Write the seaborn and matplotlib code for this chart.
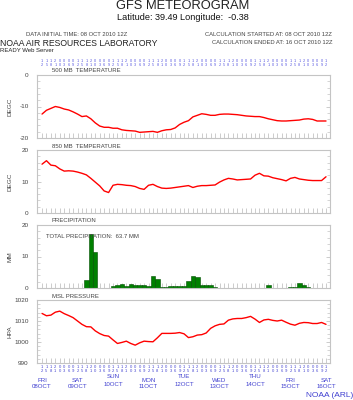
import numpy as np
import pandas as pd
import matplotlib
matplotlib.use("Agg")
import matplotlib.pyplot as plt
import seaborn as sns

# ---------------- data (3-hourly, 08 OCT 2010 12Z -> 16 OCT 2010 12Z) ----------------
hours = list(range(0, 193, 3))  # forecast hour

t500 = [-12.4, -11.2, -10.6, -10.0, -10.3, -10.8, -11.1, -11.7, -12.4, -13.2,
        -13.0, -13.9, -15.2, -16.2, -16.6, -16.6, -16.9, -16.9, -17.4, -17.6,
        -17.7, -17.8, -18.2, -18.1, -18.0, -17.9, -18.2, -17.7, -17.4, -17.3,
        -16.8, -15.7, -15.0, -14.5, -13.3, -12.8, -12.3, -12.5, -12.8, -12.8,
        -12.5, -12.4, -12.4, -12.5, -12.6, -12.8, -13.0, -13.1, -13.2, -13.2,
        -13.5, -13.9, -14.2, -14.5, -14.6, -14.6, -14.5, -14.4, -14.3, -14.0,
        -13.9, -14.1, -14.6, -14.6, -14.6]

t850 = [15.5, 16.6, 15.2, 15.0, 14.0, 13.3, 13.4, 13.3, 13.0, 12.6,
        12.1, 11.0, 9.8, 8.6, 7.0, 6.5, 8.8, 9.1, 9.0, 8.8,
        8.7, 8.4, 7.8, 7.5, 8.8, 9.1, 8.4, 7.9, 7.8, 7.9,
        8.1, 8.3, 8.5, 8.7, 8.1, 8.5, 8.7, 8.7, 8.8, 8.9,
        9.8, 10.5, 11.0, 10.8, 10.5, 10.6, 10.7, 10.8, 12.0, 12.6,
        11.8, 11.7, 11.2, 10.9, 10.6, 10.2, 11.0, 11.3, 10.8, 10.6,
        10.4, 10.3, 10.3, 10.3, 11.5]

precip = [0, 0, 0, 0, 0, 0, 0, 0, 0, 0,
          2.5, 17.2, 11.4, 0, 0, 0, 0.5, 1.0, 1.4, 0.6,
          1.2, 0.8, 1.0, 1.0, 0.6, 3.7, 2.8, 0.3, 0.2, 0.7,
          0.7, 0.7, 0.7, 2.2, 3.9, 3.5, 0.8, 0.8, 0.8, 0.2,
          0.1, 0, 0, 0, 0, 0, 0, 0, 0, 0,
          0, 1.0, 0, 0, 0, 0, 0.4, 0.4, 1.5, 0.8,
          0.3, 0, 0, 0, 0]

mslp = [1013.6, 1012.5, 1012.8, 1014.2, 1014.7, 1013.5, 1012.6, 1011.6, 1010.0, 1008.4,
        1007.3, 1007.2, 1005.3, 1004.0, 1003.1, 1002.8, 1001.0, 999.3, 999.8, 1000.4,
        999.3, 998.5, 999.6, 1000.4, 1000.2, 1000.1, 1002.0, 1004.1, 1004.1, 1004.1,
        1004.2, 1004.5, 1003.9, 1002.1, 1002.5, 1003.3, 1003.5, 1004.3, 1006.5, 1007.7,
        1008.4, 1008.6, 1010.4, 1011.0, 1011.2, 1011.2, 1011.6, 1012.2, 1010.9, 1009.3,
        1010.5, 1010.8, 1010.3, 1010.0, 1010.4, 1009.4, 1008.5, 1008.0, 1008.9, 1009.3,
        1009.2, 1008.8, 1008.8, 1009.3, 1008.4]

hour_labels = ["12", "15", "18", "21", "00", "03", "06", "09"]
day_names = ["FRI", "SAT", "SUN", "MON", "TUE", "WED", "THU", "FRI", "SAT"]
day_dates = ["08OCT", "09OCT", "10OCT", "11OCT", "12OCT", "13OCT", "14OCT", "15OCT", "16OCT"]
day_hours = [0, 24, 48, 72, 96, 120, 144, 168, 192]

panel_titles = ["500 MB  TEMPERATURE", "850 MB  TEMPERATURE", "PRECIPITATION", "MSL PRESSURE"]
panel_units = ["DEGC", "DEGC", "MM", "HPA"]

# ---------------- style ----------------
sns.set_style("white")
plt.rcParams["font.family"] = ["Liberation Sans", "DejaVu Sans"]

W, H = 353, 400
fig = plt.figure(figsize=(W / 100, H / 100), dpi=100)

def fx(x):
    return x / W

def fy(y):
    return 1 - y / H

FRAME = "#c4c4c4"
TXT = "#444444"
BLUE = "#4040d0"

left_px, right_px = 37, 330
panel_tops = [75, 150, 225, 300]
panel_h = 63
XLIM = (-3.4, 194.7)

axes = []
for top in panel_tops:
    ax = fig.add_axes([fx(left_px), fy(top + panel_h), fx(right_px - left_px), panel_h / H])
    axes.append(ax)

df = pd.DataFrame({"hour": hours, "t500": t500, "t850": t850, "precip": precip, "mslp": mslp})

sns.lineplot(data=df, x="hour", y="t500", ax=axes[0], color="#ff0000", linewidth=1.0)
sns.lineplot(data=df, x="hour", y="t850", ax=axes[1], color="#ff0000", linewidth=1.0)
sns.histplot(data=df, x="hour", weights="precip", binwidth=3, binrange=(-1.5, 193.5),
             ax=axes[2], color="#008000", edgecolor="#004d00", alpha=1.0, linewidth=0.4)
sns.lineplot(data=df, x="hour", y="mslp", ax=axes[3], color="#ff0000", linewidth=1.0)

ylims = [(-20, 0), (0, 20), (0, 20), (990, 1020)]
ymajor = [[-20, -10, 0], [0, 10, 20], [0, 10, 20], [990, 1000, 1010, 1020]]

for ax, yl, ym in zip(axes, ylims, ymajor):
    ax.set_xlim(*XLIM)
    ax.set_ylim(*yl)
    ax.set_xticks(hours)
    ax.set_yticks(ym)
    ax.set_yticks(np.arange(yl[0], yl[1] + 0.1, 2), minor=True)
    ax.set_yticklabels([str(v) for v in ym])
    ax.set_xlabel("")
    ax.set_ylabel("")
    ax.tick_params(axis="x", which="both", direction="in", length=3.5, width=0.6,
                   color=FRAME, bottom=True, top=False, labelbottom=False)
    ax.tick_params(axis="y", which="major", direction="in", length=3, width=0.6,
                   color=FRAME, left=True, right=True, labelsize=4.6, labelcolor=TXT, pad=6)
    ax.tick_params(axis="y", which="minor", direction="in", length=2, width=0.5,
                   color=FRAME, left=True, right=True)
    for s in ax.spines.values():
        s.set_color(FRAME)
        s.set_linewidth(0.8)
    ax.set_facecolor("white")

# panel titles and unit labels
for top, title, unit in zip(panel_tops, panel_titles, panel_units):
    fig.text(fx(52), fy(top - 4), title, fontsize=4.3, color=TXT, ha="left", va="center")
    fig.text(fx(10), fy(top + panel_h / 2), unit, fontsize=4.6, color=TXT,
             ha="center", va="center", rotation=90)

fig.text(fx(46), fy(236), "TOTAL PRECIPITATION:  63.7 MM", fontsize=4.3, color=TXT,
         ha="left", va="center")

# ---------------- header ----------------
fig.text(fx(183), fy(6), "GFS METEOROGRAM", fontsize=9.3, color="#222222", ha="center", va="center")
fig.text(fx(183), fy(17), "Latitude: 39.49 Longitude:  -0.38", fontsize=6.6, color="#111111",
         ha="center", va="center")
fig.text(fx(26), fy(35), "DATA INITIAL TIME: 08 OCT 2010 12Z", fontsize=4.2, color=TXT,
         ha="left", va="center")
fig.text(fx(332), fy(35), "CALCULATION STARTED AT: 08 OCT 2010 12Z", fontsize=4.2, color=TXT,
         ha="right", va="center")
fig.text(fx(332), fy(42), "CALCULATION ENDED AT: 16 OCT 2010 12Z", fontsize=4.2, color=TXT,
         ha="right", va="center")
fig.text(fx(0), fy(43), "NOAA AIR RESOURCES LABORATORY", fontsize=6.2, color="#222222",
         ha="left", va="center")
fig.text(fx(0.5), fy(51), "READY Web Server", fontsize=4.3, color="#222222", ha="left", va="center")

# ---------------- tiny blue hour labels (top and bottom) ----------------
for k, h in enumerate(hours):
    lab = hour_labels[k % 8]
    xpix = left_px + (h - XLIM[0]) / (XLIM[1] - XLIM[0]) * (right_px - left_px)
    for r, ch in enumerate(lab):
        fig.text(fx(xpix), fy(367.5 + r * 3.6), ch, fontsize=3.0, color=BLUE,
                 ha="center", va="center")
        fig.text(fx(xpix), fy(61.5 + r * 3.4), ch, fontsize=2.8, color="#5555e0",
                 ha="center", va="center")

# ---------------- day labels ----------------
for k, (h, dn, dd) in enumerate(zip(day_hours, day_names, day_dates)):
    xpix = left_px + (h - XLIM[0]) / (XLIM[1] - XLIM[0]) * (right_px - left_px)
    off = -3 if k in (2, 4, 6) else 0
    fig.text(fx(xpix), fy(380 + off), dn, fontsize=4.4, color=BLUE, ha="center", va="center")
    fig.text(fx(xpix), fy(387 + off), dd, fontsize=4.4, color=BLUE, ha="center", va="center")

fig.text(fx(353), fy(395.5), "NOAA (ARL)", fontsize=6.0, color=BLUE, ha="right", va="center")

fig.savefig("out.png", dpi=100, facecolor="white")
